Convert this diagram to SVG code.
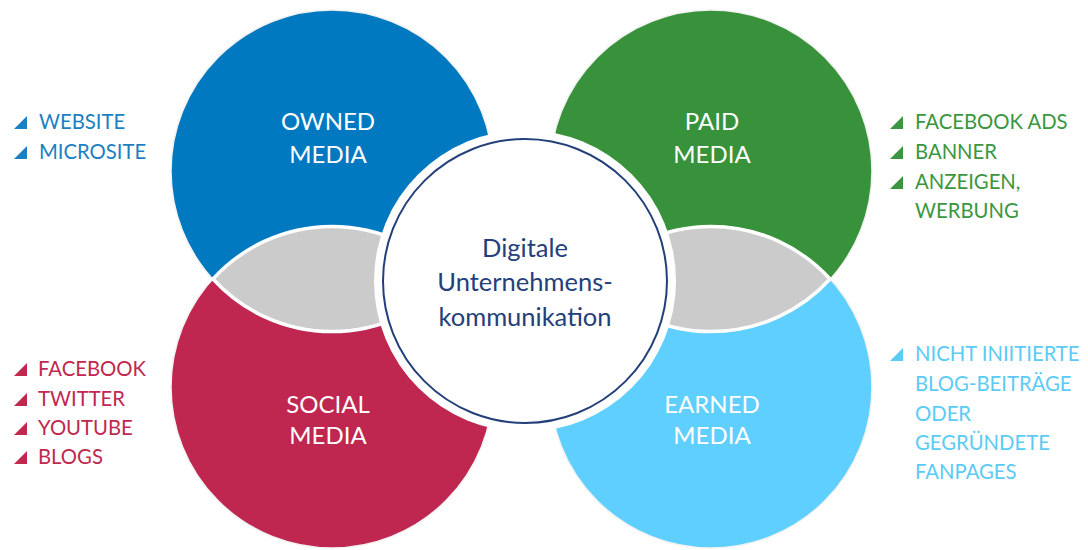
<svg xmlns="http://www.w3.org/2000/svg" width="1088" height="550" viewBox="0 0 1088 550">
<style>
.lbl{font-family:Lato,"Open Sans",sans-serif;font-size:24px;fill:#ffffff;text-anchor:middle}
.ctr{font-family:Lato,"Open Sans",sans-serif;font-size:25.5px;fill:#24407a;text-anchor:middle}
.li{font-family:Lato,"Open Sans",sans-serif;font-size:20.3px}
.ring{stroke:#f2f2f2;stroke-width:1.5}
.lens{fill:#cbcbcb;stroke:#ffffff;stroke-width:3.5}
.blue{fill:#0079c1}.green{fill:#37923b}.red{fill:#bf2650}.sky{fill:#5ecfff}
</style>
<rect width="1088" height="550" fill="#ffffff"/>
<g id="owned-media">
<circle class="blue ring" cx="332" cy="171" r="161"/>
</g>
<g id="paid-media">
<circle class="green ring" cx="711" cy="171" r="161"/>
</g>
<g id="social-media">
<circle class="red ring" cx="332" cy="387" r="161"/>
</g>
<g id="earned-media">
<circle class="sky ring" cx="711" cy="387" r="161"/>
</g>
<g id="lens-left">
<path class="lens" d="M213 279 A161 161 0 0 1 451 279 A161 161 0 0 1 213 279 Z"/>
</g>
<g id="lens-right">
<path class="lens" d="M592 279 A161 161 0 0 1 830 279 A161 161 0 0 1 592 279 Z"/>
</g>
<g id="labels">
<text class="lbl" x="328" y="130">OWNED</text>
<text class="lbl" x="328" y="163">MEDIA</text>
<text class="lbl" x="712" y="130">PAID</text>
<text class="lbl" x="712" y="163">MEDIA</text>
<text class="lbl" x="328" y="413">SOCIAL</text>
<text class="lbl" x="328" y="444">MEDIA</text>
<text class="lbl" x="712" y="413">EARNED</text>
<text class="lbl" x="712" y="444">MEDIA</text>
</g>
<g id="center">
<circle cx="525" cy="281" r="151" fill="#ffffff"/>
<circle cx="525" cy="281" r="142" fill="#ffffff" stroke="#24407a" stroke-width="2"/>
<text class="ctr" x="525" y="257">Digitale</text>
<text class="ctr" x="525" y="291">Unternehmens-</text>
<text class="ctr" x="525" y="326">kommunikation</text>
</g>
<g id="connectors"></g>
<g id="list-owned" fill="#1b7fc4">
<path d="M14 129 L27 129 L27 116 Z"/>
<path d="M14 159 L27 159 L27 146 Z"/>
<text class="li" x="39" y="129">WEBSITE</text>
<text class="li" x="39" y="159">MICROSITE</text>
</g>
<g id="list-paid" fill="#3a963f">
<path d="M890 129 L903 129 L903 116 Z"/>
<path d="M890 159 L903 159 L903 146 Z"/>
<path d="M890 189 L903 189 L903 176 Z"/>
<text class="li" x="915" y="129">FACEBOOK ADS</text>
<text class="li" x="915" y="159">BANNER</text>
<text class="li" x="915" y="189">ANZEIGEN,</text>
<text class="li" x="915" y="218">WERBUNG</text>
</g>
<g id="list-social" fill="#c0284f">
<path d="M14 376 L27 376 L27 363 Z"/>
<path d="M14 406 L27 406 L27 393 Z"/>
<path d="M14 435 L27 435 L27 422 Z"/>
<path d="M14 464 L27 464 L27 451 Z"/>
<text class="li" x="38" y="376">FACEBOOK</text>
<text class="li" x="38" y="406">TWITTER</text>
<text class="li" x="38" y="435">YOUTUBE</text>
<text class="li" x="38" y="464">BLOGS</text>
</g>
<g id="list-earned" fill="#5bcbf5">
<path d="M890 361 L903 361 L903 348 Z"/>
<text class="li" x="915" y="361">NICHT INIITIERTE</text>
<text class="li" x="915" y="391">BLOG-BEITRÄGE</text>
<text class="li" x="915" y="421">ODER</text>
<text class="li" x="915" y="450">GEGRÜNDETE</text>
<text class="li" x="915" y="479">FANPAGES</text>
</g>
</svg>
